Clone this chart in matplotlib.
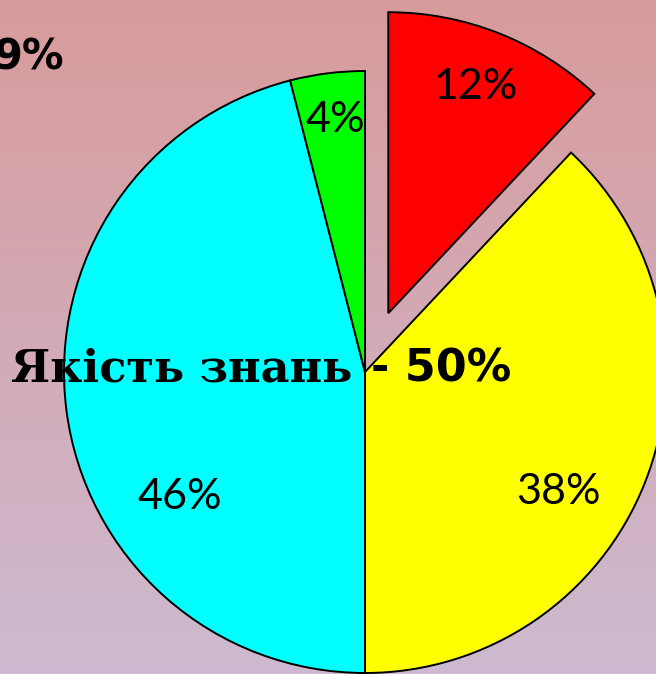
import numpy as np
import matplotlib.pyplot as plt

# pie data: clockwise from 12 o'clock
shares = [12, 38, 46, 4]
labels = ['12%', '38%', '46%', '4%']
colors = ['#ff0000', '#ffff00', '#00ffff', '#00ff00']
explode = [0.21, 0, 0, 0]  # fraction of radius
# label positions in pixels, origin at top left
label_pos = [(476, 87), (558, 492), (180, 497), (335, 120)]

W, H = 656, 674
R = 301
fig = plt.figure(figsize=(W / 100, H / 100), dpi=100)
ax = fig.add_axes([0, 0, 1, 1])

# background gradient, pink at top to lavender at bottom
top = np.array([216, 155, 156]) / 255
bottom = np.array([205, 186, 208]) / 255
t = np.linspace(0, 1, 256)[:, None, None]
ax.imshow(top + (bottom - top) * t, extent=[0, W, 0, H], origin='upper',
          aspect='auto', zorder=0)

# matplotlib's explode is in data units, so scale by the radius
ax.pie(shares, colors=colors, explode=[e * R for e in explode],
       startangle=90, counterclock=False, center=(365, H - 372), radius=R,
       wedgeprops=dict(edgecolor='black', linewidth=1.4))

for lab, (x, y) in zip(labels, label_pos):
    ax.text(x, H - y, lab, ha='center', va='center', fontsize=31, family='Lato')

ax.text(11, H - 369, 'Якість знань', ha='left', va='center', fontsize=32,
        family='DejaVu Serif', fontweight='bold')
ax.text(371, H - 369, '- 50%', ha='left', va='center', fontsize=32,
        family='DejaVu Sans', fontweight='bold')
ax.text(64, H - 58, '9%', ha='right', va='center', fontsize=30,
        family='DejaVu Sans', fontweight='bold')

ax.set_xlim(0, W)
ax.set_ylim(0, H)
ax.set_aspect('auto')
ax.axis('off')

fig.savefig('out.png', dpi=100)
